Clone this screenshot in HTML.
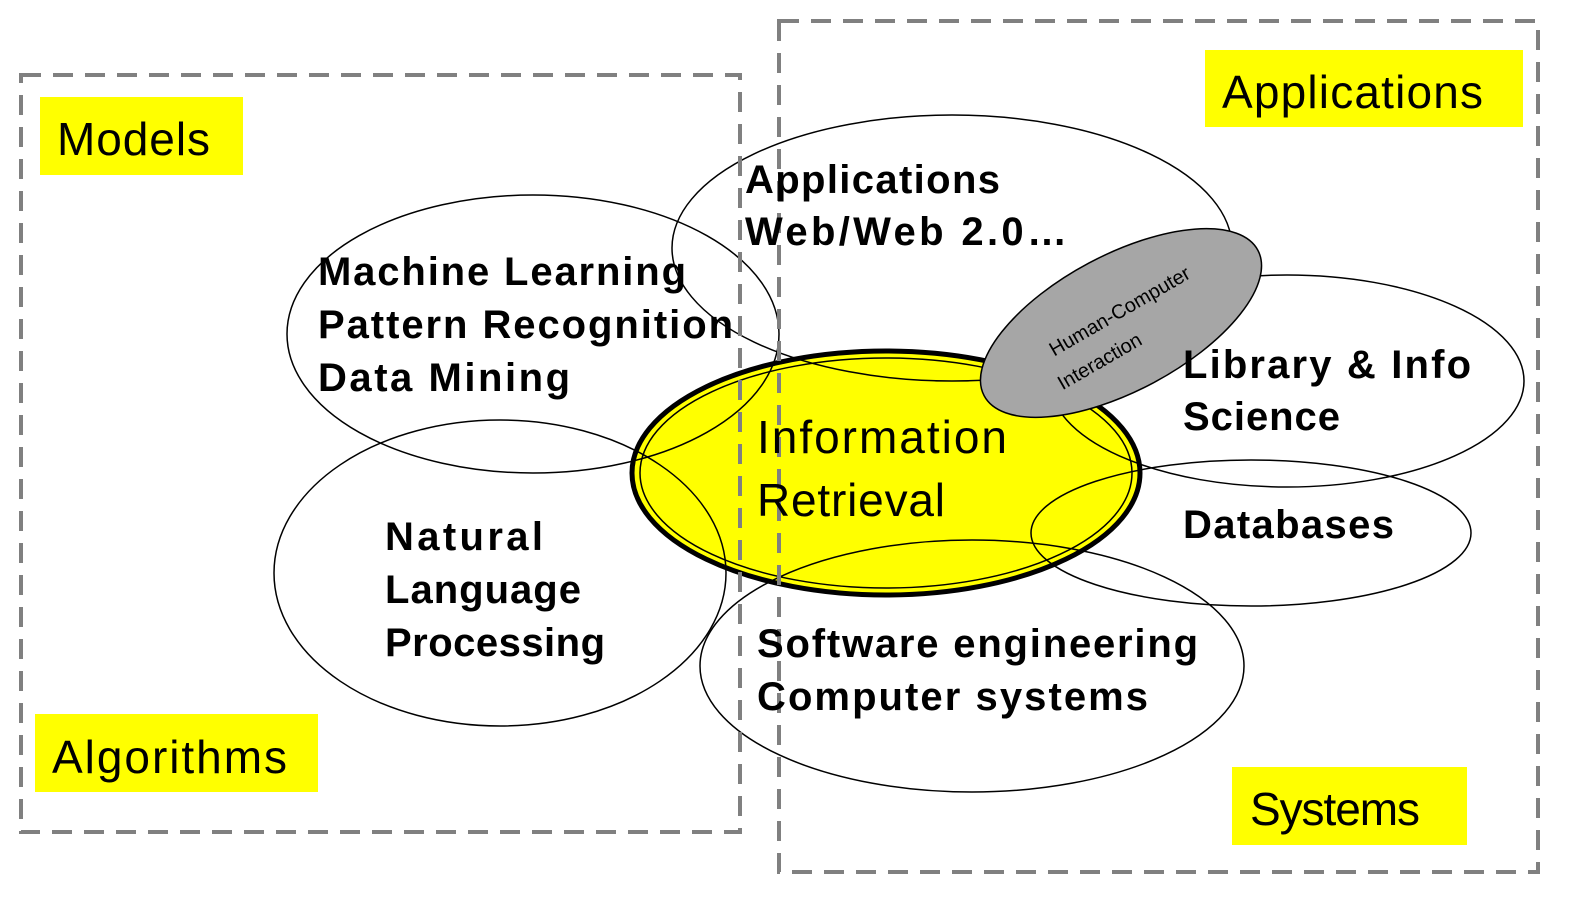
<!DOCTYPE html>
<html><head><meta charset="utf-8"><style>
html,body{margin:0;padding:0;background:#fff;}
svg{display:block;}
.b{font-family:"Liberation Sans",sans-serif;font-weight:bold;font-size:40px;fill:#000;}
.l{font-family:"Liberation Sans",sans-serif;font-size:46px;fill:#000;}
</style></head><body>
<svg width="1578" height="900" viewBox="0 0 1578 900" xmlns="http://www.w3.org/2000/svg">
<rect width="1578" height="900" fill="#fff"/>
<!-- yellow labels -->
<rect x="40" y="97" width="203" height="78" fill="#ffff00"/>
<rect x="1205" y="50" width="318" height="77" fill="#ffff00"/>
<rect x="35" y="714" width="283" height="78" fill="#ffff00"/>
<rect x="1232" y="767" width="235" height="78" fill="#ffff00"/>
<!-- IR yellow -->
<ellipse cx="886" cy="473" rx="254" ry="122" fill="#ffff00" stroke="#000" stroke-width="5"/>
<ellipse cx="886" cy="473" rx="246" ry="115" fill="none" stroke="#000" stroke-width="1.5"/>
<!-- outlines -->
<g fill="none" stroke="#000" stroke-width="1.5">
<ellipse cx="952" cy="248" rx="280" ry="133"/>
<ellipse cx="533" cy="334" rx="246" ry="139"/>
<ellipse cx="500" cy="573" rx="226" ry="153"/>
<ellipse cx="1287" cy="381" rx="237" ry="106"/>
<ellipse cx="1251" cy="533" rx="220" ry="73"/>
<ellipse cx="972" cy="666" rx="272" ry="126"/>
</g>
<!-- dashed boxes -->
<g fill="none" stroke="#808080" stroke-width="4" stroke-dasharray="20 12">
<rect x="21" y="75" width="719" height="757"/>
<rect x="779" y="21" width="759" height="851"/>
</g>
<!-- HCI -->
<ellipse cx="1121" cy="323" rx="155" ry="68" transform="rotate(-28 1121 323)" fill="#a6a6a6" stroke="#000" stroke-width="1.5"/>
<g font-family="Liberation Sans, sans-serif" font-size="20" fill="#000" text-anchor="middle">
<text x="1123" y="317" transform="rotate(-30 1123 317)">Human-Computer</text>
<text x="1103" y="367" transform="rotate(-30 1103 367)">Interaction</text>
</g>
<!-- labels -->
<text class="l" x="57" y="155" textLength="153">Models</text>
<text class="l" x="1222" y="108" textLength="261">Applications</text>
<text class="l" x="52" y="773" textLength="235">Algorithms</text>
<text class="l" x="1250" y="825" textLength="170">Systems</text>
<text class="l" x="757" y="453" textLength="250">Information</text>
<text class="l" x="757" y="516" textLength="188">Retrieval</text>
<!-- bold -->
<text class="b" x="745" y="193" textLength="255">Applications</text>
<text class="b" x="745" y="245" textLength="322">Web/Web 2.0…</text>
<text class="b" x="318" y="285" textLength="368">Machine Learning</text>
<text class="b" x="318" y="338" textLength="415">Pattern Recognition</text>
<text class="b" x="318" y="391" textLength="252">Data Mining</text>
<text class="b" x="385" y="550" textLength="158">Natural</text>
<text class="b" x="385" y="603" textLength="196">Language</text>
<text class="b" x="385" y="656" textLength="220">Processing</text>
<text class="b" x="1183" y="378" textLength="288">Library &amp; Info</text>
<text class="b" x="1183" y="430" textLength="157">Science</text>
<text class="b" x="1183" y="538" textLength="211">Databases</text>
<text class="b" x="757" y="657" textLength="441">Software engineering</text>
<text class="b" x="757" y="710" textLength="391">Computer systems</text>
</svg>
</body></html>
